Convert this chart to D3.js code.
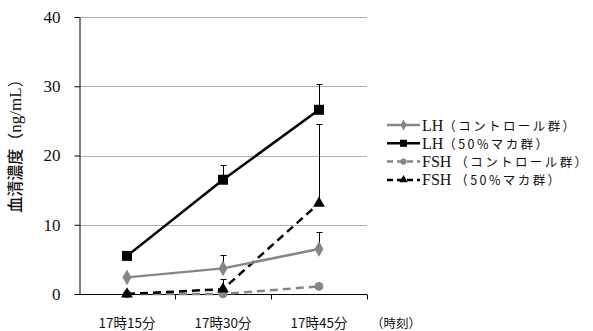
<!DOCTYPE html>
<html>
<head>
<meta charset="utf-8">
<script src="https://cdn.jsdelivr.net/npm/d3@7"></script>
<style>
  body { margin: 0; background: #fff; }
  svg { display: block; }
</style>
</head>
<body>
<div id="chart"></div>
<script>
const width = 593;
const height = 331;
const margin = { top: 17, right: 226, bottom: 37, left: 79 };
const graphWidth = width - margin.left - margin.right;
const graphHeight = height - margin.top - margin.bottom;

// data
const times = ["17時15分", "17時30分", "17時45分"];
const yTicks = [0, 10, 20, 30, 40];
const seriesNames = ["LH（コントロール群）", "LH（50%マカ群）", "FSH （コントロール群）", "FSH （50%マカ群）"];
const lhControl = [2.4, 3.7, 6.5];
const lhMaca = [5.5, 16.5, 26.6];
const fshControl = [0, 0, 1.1];
const fshMaca = [0, 0.7, 13.1];
const lhControlErr = [0, 2.0, 2.4];
const lhMacaErr = [0, 2.1, 3.7];
const fshControlErr = [0, 0, 0];
const fshMacaErr = [0, 1.4, 11.4];

const series = [
    { name: seriesNames[0], values: lhControl, err: lhControlErr, color: '#868686', dash: null, symbol: d3.symbolDiamond, size: 70 },
    { name: seriesNames[1], values: lhMaca, err: lhMacaErr, color: '#000000', dash: null, symbol: d3.symbolSquare, size: 100 },
    { name: seriesNames[2], values: fshControl, err: fshControlErr, color: '#868686', dash: '8,5', symbol: d3.symbolCircle, size: 60 },
    { name: seriesNames[3], values: fshMaca, err: fshMacaErr, color: '#000000', dash: '8,5', symbol: d3.symbolTriangle, size: 60 }
];

const svg = d3.select('#chart')
    .append('svg')
    .attr('width', width)
    .attr('height', height);

const graph = svg.append('g')
    .attr('transform', `translate(${margin.left}, ${margin.top})`);

const x = d3.scaleBand()
    .domain(times)
    .range([0, graphWidth])
    .padding(0);

const y = d3.scaleLinear()
    .domain([0, 40])
    .range([graphHeight, 0]);

// gridlines
graph.selectAll('.grid')
    .data(yTicks.filter(t => t > 0))
    .enter()
    .append('line')
    .attr('x1', 0)
    .attr('x2', graphWidth)
    .attr('y1', d => Math.round(y(d)) + 0.5)
    .attr('y2', d => Math.round(y(d)) + 0.5)
    .attr('stroke', '#b0b0b0')
    .attr('stroke-width', 1);

// y axis
const gYAxis = graph.append('g')
    .attr('transform', 'translate(0.5, 0)')
    .call(d3.axisLeft(y).tickValues(yTicks).tickSize(5).tickPadding(14).tickSizeOuter(0));
gYAxis.select('.domain').attr('stroke', '#000');
gYAxis.selectAll('text')
    .style('font-family', '"Liberation Serif", "Times New Roman", serif')
    .style('font-size', '17px')
    .attr('fill', '#111');

// x axis
const gXAxis = graph.append('g')
    .attr('transform', `translate(0, ${Math.round(graphHeight) + 0.5})`);
gXAxis.append('line')
    .attr('x1', 0).attr('x2', graphWidth)
    .attr('stroke', '#000');
gXAxis.selectAll('.xtick')
    .data(times)
    .enter()
    .append('line')
    .attr('x1', d => Math.round(x(d) + x.bandwidth()) + 0.5)
    .attr('x2', d => Math.round(x(d) + x.bandwidth()) + 0.5)
    .attr('y1', 0).attr('y2', 5)
    .attr('stroke', '#000');
gXAxis.selectAll('.xlabel')
    .data(times)
    .enter()
    .append('text')
    .attr('x', d => x(d) + x.bandwidth() / 2)
    .attr('y', 33)
    .attr('text-anchor', 'middle')
    .style('font-family', '"Noto Sans CJK JP", sans-serif')
    .style('font-size', '13.5px')
    .attr('fill', '#111')
    .text(d => d);
gXAxis.append('text')
    .attr('x', graphWidth + 4)
    .attr('y', 33)
    .style('font-family', '"Noto Sans CJK JP", sans-serif')
    .style('font-size', '12.5px')
    .attr('fill', '#111')
    .text('（時刻）');

// y axis title
const yTitle = svg.append('text')
    .attr('transform', `translate(21, 142) rotate(-90)`)
    .attr('text-anchor', 'middle')
    .attr('fill', '#111');
yTitle.append('tspan')
    .style('font-family', '"Noto Sans CJK JP", sans-serif')
    .style('font-size', '16px')
    .style('font-weight', 500)
    .text('血清濃度（');
yTitle.append('tspan')
    .style('font-family', '"Liberation Serif", serif')
    .style('font-size', '17px')
    .text('ng/mL');
yTitle.append('tspan')
    .style('font-family', '"Noto Sans CJK JP", sans-serif')
    .style('font-size', '16px')
    .text('）');

const cx = d => x(d) + x.bandwidth() / 2;

// error bars
series.forEach(s => {
    const eb = graph.append('g');
    times.forEach((t, i) => {
        if (!s.err[i]) return;
        const px = Math.round(cx(t)) + 0.5;
        const y0 = y(s.values[i]);
        const y1 = Math.round(y(s.values[i] + s.err[i])) + 0.5;
        eb.append('line')
            .attr('x1', px).attr('x2', px)
            .attr('y1', y0).attr('y2', y1)
            .attr('stroke', '#000').attr('stroke-width', 1);
        eb.append('line')
            .attr('x1', px - 3).attr('x2', px + 3)
            .attr('y1', y1).attr('y2', y1)
            .attr('stroke', '#000').attr('stroke-width', 1);
    });
});

// lines and markers
const line = d3.line()
    .x((d, i) => cx(times[i]))
    .y(d => y(d));

[2, 3, 0, 1].forEach(k => {
    const s = series[k];
    graph.append('path')
        .datum(s.values)
        .attr('d', line)
        .attr('fill', 'none')
        .attr('stroke', s.color)
        .attr('stroke-width', 2.5)
        .attr('stroke-dasharray', s.dash);
    graph.selectAll(null)
        .data(s.values)
        .enter()
        .append('path')
        .attr('d', d3.symbol().type(s.symbol).size(s.size))
        .attr('transform', (d, i) => `translate(${cx(times[i])}, ${y(d)})`)
        .attr('fill', s.color);
});

// legend
const legend = svg.append('g')
    .attr('transform', 'translate(387, 125)');
series.forEach((s, i) => {
    const g = legend.append('g')
        .attr('transform', `translate(0, ${i * 18.3})`);
    g.append('line')
        .attr('x1', 0).attr('x2', 33)
        .attr('y1', 0).attr('y2', 0)
        .attr('stroke', s.color)
        .attr('stroke-width', 2.5)
        .attr('stroke-dasharray', s.dash ? '6,4' : null);
    g.append('path')
        .attr('d', d3.symbol().type(s.symbol).size(s.size * 0.5))
        .attr('transform', 'translate(16.5, 0)')
        .attr('fill', s.color);
    const parts = s.name.match(/^([A-Z]+ ?)(.*)$/);
    const txt = g.append('text')
        .attr('x', 35)
        .attr('y', 5.5)
        .attr('fill', '#111');
    txt.append('tspan')
        .style('font-family', '"Liberation Serif", serif')
        .style('font-size', '16px')
        .text(parts[1].trim() + (parts[1].endsWith(' ') ? '\u00a0' : ''));
    txt.append('tspan')
        .style('font-family', '"Noto Sans CJK JP", sans-serif')
        .style('font-size', '12.5px')
        .style('letter-spacing', '2.4px')
        .text(parts[2]);
});
</script>
</body>
</html>
